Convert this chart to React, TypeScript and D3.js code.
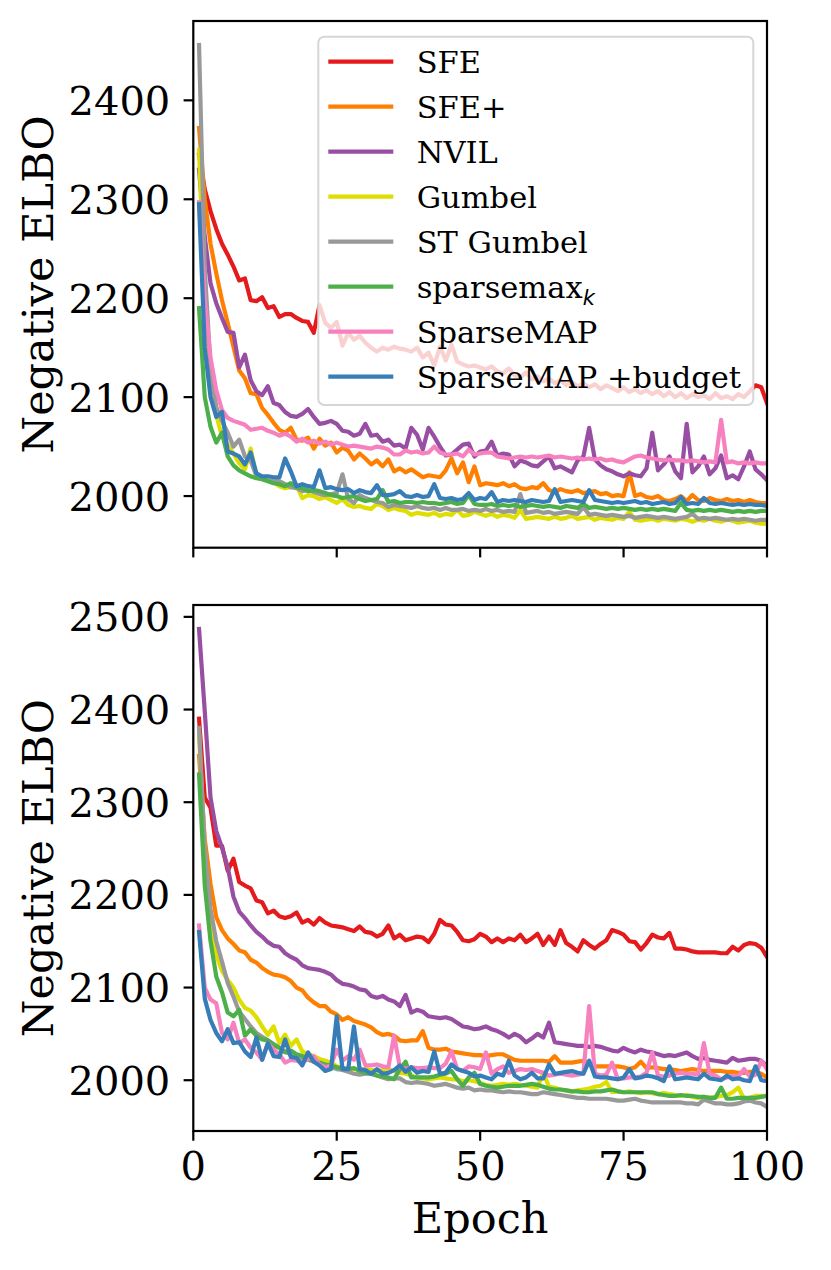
import * as d3 from 'd3';
import { useEffect, useRef } from 'react';

const methods = ['SFE', 'SFE+', 'NVIL', 'Gumbel', 'ST Gumbel', 'sparsemax', 'SparseMAP', 'SparseMAP +budget'];
const colors = ['#e41a1c', '#ff7f00', '#984ea3', '#dede00', '#999999', '#4daf4a', '#f781bf', '#377eb8'];
const xTicks = [0, 25, 50, 75, 100];
const yTicksTop = [2000, 2100, 2200, 2300, 2400];
const yTicksBottom = [2000, 2100, 2200, 2300, 2400, 2500];
const epochs = d3.range(1, 101);

// top panel
const sfeTop = [2345, 2310, 2288, 2270, 2255, 2244, 2232, 2218, 2220, 2198,
  2197, 2201, 2190, 2192, 2181, 2184, 2184, 2180, 2177, 2176,
  2165, 2193, 2175, 2170, 2176, 2152, 2165, 2158, 2162, 2155,
  2150, 2146, 2150, 2148, 2151, 2149, 2148, 2146, 2150, 2140,
  2145, 2132, 2151, 2137, 2153, 2136, 2133, 2131, 2132, 2130,
  2128, 2131, 2126, 2124, 2129, 2122, 2120, 2125, 2118, 2121,
  2116, 2119, 2114, 2117, 2112, 2115, 2111, 2114, 2110, 2113,
  2108, 2112, 2109, 2106, 2110, 2105, 2108, 2104, 2107, 2103,
  2106, 2101, 2105, 2100, 2104, 2099, 2103, 2100, 2102, 2098,
  2104, 2099, 2101, 2098, 2103, 2100, 2106, 2112, 2110, 2094];
const sfePlusTop = [2372, 2300, 2255, 2225, 2198, 2175, 2151, 2127, 2119, 2104,
  2103, 2089, 2082, 2074, 2067, 2064, 2069, 2057, 2056, 2059,
  2048, 2058, 2051, 2054, 2044, 2049, 2046, 2037, 2043, 2038,
  2032, 2036, 2030, 2037, 2025, 2028, 2024, 2027, 2023, 2019,
  2021, 2020, 2019, 2026, 2038, 2023, 2034, 2014, 2030, 2011,
  2013, 2012, 2011, 2013, 2010, 2012, 2008, 2007, 2009, 2008,
  2013, 2006, 2004, 2007, 2005, 2004, 2006, 2003, 2004, 2005,
  2002, 2003, 2000, 2001, 2000, 2024, 2000, 2002, 1999, 1998,
  2000, 1996, 1995, 1997, 2000, 1995, 2001, 1996, 1995, 1998,
  1996, 1995, 1997, 1995, 1996, 1994, 1996, 1994, 1993, 1993];
const nvilTop = [2330, 2262, 2215, 2195, 2180, 2166, 2165, 2130, 2143, 2117,
  2106, 2102, 2111, 2094, 2092, 2085, 2081, 2080, 2083, 2088,
  2080, 2073, 2074, 2076, 2073, 2066, 2065, 2061, 2063, 2073,
  2061, 2062, 2055, 2057, 2051, 2052, 2048, 2069, 2062, 2047,
  2069, 2060, 2050, 2041, 2042, 2047, 2052, 2053, 2040, 2045,
  2046, 2055, 2041, 2043, 2042, 2030, 2036, 2034, 2031, 2030,
  2035, 2040, 2028, 2030, 2027, 2024, 2036, 2040, 2069, 2037,
  2031, 2027, 2025, 2022, 2020, 2023, 2021, 2020, 2028, 2064,
  2026, 2032, 2040, 2025, 2018, 2073, 2024, 2030, 2040, 2022,
  2028, 2041, 2018, 2021, 2017, 2030, 2045, 2027, 2022, 2016];
const gumbelTop = [2350, 2200, 2120, 2082, 2060, 2052, 2043, 2033, 2027, 2048,
  2020, 2017, 2016, 2014, 2010, 2008, 2009, 2011, 1998, 2001,
  2000, 1997, 1999, 1996, 1993, 1997, 1991, 1989, 1990, 1988,
  1987, 1992, 1990, 1986, 1988, 1986, 1985, 1981, 1983, 1982,
  1981, 1983, 1980, 1982, 1981, 1986, 1980, 1981, 1984, 1982,
  1980, 1982, 1979, 1981, 1980, 1978, 1986, 1977, 1978, 1979,
  1978, 1977, 1979, 1977, 1978, 1980, 1977, 1978, 1979, 1976,
  1978, 1977, 1976, 1978, 1977, 1984, 1976, 1975, 1976, 1977,
  1975, 1977, 1976, 1975, 1977, 1976, 1974, 1976, 1975, 1977,
  1975, 1974, 1976, 1975, 1973, 1974, 1975, 1973, 1972, 1972];
const stGumbelTop = [2456, 2230, 2130, 2090, 2076, 2064, 2050, 2057, 2040, 2036,
  2020, 2018, 2016, 2015, 2015, 2012, 2009, 2008, 2005, 2006,
  2004, 2002, 2001, 2002, 2003, 2022, 1997, 1993, 2001, 1998,
  1996, 1994, 1993, 1989, 1991, 1990, 1989, 1988, 1990, 1988,
  1987, 1988, 1986, 1988, 1986, 1986, 1987, 1985, 1986, 1985,
  1987, 1985, 1986, 1984, 1985, 1984, 2002, 1983, 1984, 1985,
  1983, 1984, 1982, 1983, 1984, 1983, 1982, 1989, 1981, 1982,
  1981, 1980, 1981, 1980, 1979, 1980, 1978, 1979, 1980, 1979,
  1978, 1979, 1978, 1977, 1978, 1979, 1982, 1977, 1978, 1977,
  1978, 1977, 1976, 1977, 1976, 1977, 1976, 1975, 1976, 1976];
const sparsemaxTop = [2190, 2100, 2070, 2054, 2064, 2040, 2031, 2026, 2023, 2020,
  2018, 2017, 2015, 2013, 2012, 2010, 2013, 2009, 2008, 2005,
  2006, 2005, 2003, 2001, 2000, 1998, 1999, 2000, 1997, 1995,
  1996, 1997, 2006, 1994, 1995, 1993, 1994, 1994, 1993, 1994,
  1993, 1993, 1992, 1993, 1994, 1992, 1993, 2001, 1992, 1991,
  1991, 1992, 1990, 1991, 1990, 1991, 1989, 1990, 1991, 1990,
  1989, 1990, 1989, 1988, 1990, 1989, 1988, 1992, 1988, 1989,
  1988, 1987, 1988, 1987, 1988, 1987, 1986, 1987, 1986, 1987,
  1986, 1987, 1986, 1985, 1993, 1986, 1985, 1986, 1985, 1986,
  1985, 1986, 1985, 1984, 1985, 1984, 1985, 1984, 1985, 1985];
const sparsemapTop = [2297, 2200, 2140, 2107, 2087, 2079, 2076, 2074, 2072, 2067,
  2068, 2069, 2066, 2064, 2061, 2063, 2060, 2055, 2058, 2054,
  2056, 2053, 2055, 2052, 2054, 2052, 2050, 2051, 2050, 2049,
  2048, 2050, 2049, 2047, 2042, 2042, 2046, 2044, 2045, 2043,
  2044, 2050, 2044, 2042, 2042, 2043, 2040, 2047, 2042, 2043,
  2044, 2044, 2040, 2039, 2038, 2039, 2040, 2039, 2040, 2039,
  2040, 2041, 2039, 2040, 2039, 2038, 2039, 2037, 2038, 2037,
  2038, 2036, 2037, 2035, 2034, 2037, 2040, 2041, 2039, 2038,
  2037, 2036, 2037, 2036, 2036, 2035, 2036, 2035, 2034, 2035,
  2034, 2077, 2034, 2035, 2033, 2034, 2033, 2034, 2033, 2033];
const budgetTop = [2295, 2150, 2100, 2080, 2085, 2045, 2043, 2040, 2032, 2044,
  2023, 2020, 2020, 2019, 2019, 2038, 2025, 2010, 2012, 2010,
  2009, 2026, 2008, 2009, 2007, 2006, 2007, 2003, 2006, 2004,
  2003, 2011, 2001, 2001, 2002, 2005, 2000, 1999, 2001, 1999,
  2000, 2012, 1998, 1997, 1998, 1996, 1997, 2003, 1996, 1998,
  1997, 2004, 1994, 1996, 1995, 1996, 1995, 1994, 1996, 1995,
  1994, 1995, 2007, 1994, 1995, 1996, 1995, 1994, 2006, 1996,
  1995, 1994, 1993, 1994, 1993, 1994, 1995, 1993, 1994, 1992,
  1993, 1994, 1992, 1993, 1999, 1992, 1993, 1992, 1998, 1993,
  1992, 1993, 1992, 1991, 1992, 1991, 1992, 1991, 1991, 1990];

// bottom panel
const sfeBottom = [2390, 2305, 2294, 2253, 2253, 2226, 2239, 2214, 2210, 2207,
  2194, 2192, 2180, 2183, 2177, 2175, 2177, 2181, 2170, 2173,
  2168, 2175, 2170, 2167, 2166, 2165, 2163, 2161, 2166, 2160,
  2159, 2155, 2158, 2167, 2153, 2157, 2151, 2153, 2155, 2154,
  2149, 2158, 2173, 2168, 2167, 2160, 2151, 2150, 2152, 2158,
  2155, 2149, 2153, 2149, 2153, 2151, 2157, 2149, 2153, 2158,
  2146, 2155, 2146, 2162, 2148, 2144, 2139, 2151, 2146, 2142,
  2147, 2151, 2162, 2160, 2157, 2150, 2149, 2141, 2148, 2157,
  2154, 2153, 2159, 2142, 2142, 2141, 2139, 2138, 2138, 2138,
  2138, 2137, 2137, 2144, 2140, 2146, 2148, 2147, 2143, 2133];
const sfePlusBottom = [2350, 2260, 2212, 2176, 2162, 2153, 2147, 2140, 2138, 2130,
  2127, 2121, 2117, 2114, 2113, 2111, 2107, 2100, 2097, 2089,
  2084, 2080, 2080, 2074, 2071, 2065, 2068, 2064, 2062, 2060,
  2057, 2052, 2049, 2050, 2048, 2043, 2042, 2043, 2043, 2053,
  2035, 2033, 2033, 2034, 2031, 2030, 2029, 2028, 2027, 2027,
  2026, 2027, 2028, 2028, 2025, 2022, 2021, 2021, 2021, 2021,
  2021, 2020, 2026, 2019, 2019, 2019, 2020, 2021, 2018, 2015,
  2015, 2015, 2015, 2015, 2014, 2012, 2014, 2020, 2013, 2014,
  2013, 2012, 2012, 2011, 2010, 2011, 2012, 2011, 2010, 2010,
  2010, 2010, 2009, 2009, 2008, 2008, 2009, 2009, 2007, 2003];
const nvilBottom = [2487, 2398, 2305, 2269, 2251, 2230, 2198, 2182, 2175, 2167,
  2160, 2155, 2149, 2145, 2144, 2137, 2133, 2130, 2124, 2121,
  2120, 2119, 2117, 2114, 2108, 2104, 2103, 2101, 2098, 2097,
  2091, 2089, 2091, 2087, 2085, 2080, 2092, 2073, 2076, 2074,
  2069, 2068, 2067, 2068, 2066, 2062, 2058, 2057, 2055, 2056,
  2058, 2055, 2053, 2050, 2046, 2050, 2047, 2041, 2045, 2050,
  2046, 2062, 2041, 2040, 2039, 2038, 2037, 2037, 2036, 2037,
  2036, 2034, 2032, 2031, 2035, 2032, 2030, 2033, 2031, 2030,
  2028, 2026, 2027, 2026, 2028, 2030, 2026, 2023, 2024, 2022,
  2021, 2020, 2019, 2024, 2021, 2022, 2023, 2023, 2021, 2015];
const gumbelBottom = [2373, 2250, 2170, 2135, 2118, 2108, 2100, 2087, 2078, 2075,
  2068, 2058, 2049, 2058, 2040, 2049, 2037, 2044, 2031, 2028,
  2026, 2023, 2021, 2019, 2015, 2013, 2012, 2012, 2011, 2012,
  2011, 2010, 2011, 2012, 2010, 2008, 2007, 2005, 2003, 2002,
  2001, 2002, 2003, 2002, 2001, 2001, 1999, 2000, 1999, 1997,
  1995, 1994, 1995, 1996, 1995, 1996, 1995, 1994, 1993, 1992,
  2008, 1993, 1992, 1990, 1989, 1988, 1989, 1990, 1991, 1993,
  1994, 1998, 1987, 1988, 1987, 1988, 1987, 1986, 1987, 1986,
  1985, 1986, 1985, 1984, 1983, 1984, 1982, 1981, 1982, 1981,
  1982, 1983, 1984, 1987, 1992, 1980, 1981, 1983, 1983, 1983];
const stGumbelBottom = [2380, 2250, 2185, 2150, 2128, 2105, 2090, 2074, 2066, 2058,
  2051, 2047, 2043, 2039, 2035, 2031, 2028, 2026, 2024, 2022,
  2020, 2018, 2016, 2014, 2012, 2011, 2009, 2007, 2006, 2007,
  2007, 2005, 2003, 2001, 2002, 2002, 1998, 1997, 1998, 1997,
  1996, 1994, 1995, 1996, 1994, 1992, 1991, 1992, 1989, 1990,
  1989, 1989, 1988, 1987, 1988, 1987, 1987, 1986, 1985, 1985,
  1987, 1986, 1985, 1984, 1983, 1982, 1981, 1981, 1980, 1980,
  1980, 1980, 1979, 1978, 1978, 1979, 1980, 1978, 1977, 1976,
  1976, 1976, 1976, 1976, 1976, 1975, 1975, 1974, 1979, 1977,
  1975, 1975, 1974, 1974, 1975, 1977, 1978, 1976, 1975, 1971];
const sparsemaxBottom = [2330, 2210, 2150, 2112, 2095, 2073, 2069, 2076, 2048, 2055,
  2048, 2044, 2043, 2038, 2035, 2030, 2032, 2028, 2026, 2023,
  2021, 2019, 2017, 2016, 2014, 2013, 2012, 2013, 2010, 2008,
  2007, 2005, 2004, 2003, 2001, 2012, 2020, 2003, 2003, 2003,
  2003, 2004, 2006, 2007, 2010, 2001, 1994, 2003, 2008, 1996,
  1994, 1993, 1992, 1993, 1994, 1994, 1994, 1995, 1996, 1995,
  1993, 1991, 1990, 1990, 1989, 1988, 1988, 1987, 1987, 1988,
  1988, 1989, 1990, 1988, 1987, 1987, 1987, 1987, 1987, 1987,
  1985, 1984, 1983, 1983, 1984, 1983, 1983, 1982, 1982, 1981,
  1981, 1992, 1980, 1980, 1981, 1981, 1981, 1981, 1982, 1983];
const sparsemapBottom = [2167, 2100, 2087, 2083, 2051, 2044, 2062, 2040, 2044, 2035,
  2030, 2022, 2040, 2033, 2028, 2019, 2022, 2021, 2019, 2023,
  2026, 2017, 2014, 2016, 2033, 2021, 2026, 2022, 2033, 2016,
  2016, 2017, 2015, 2014, 2048, 2014, 2012, 2014, 2013, 2013,
  2014, 2013, 2013, 2018, 2031, 2012, 2010, 2015, 2014, 2012,
  2030, 2007, 2012, 2015, 2008, 2010, 2012, 2011, 2012, 2010,
  2008, 2005, 2006, 2007, 2006, 2005, 2006, 2007, 2080, 2007,
  2005, 2006, 2019, 2001, 2002, 2003, 2003, 2004, 2008, 2030,
  2005, 2004, 2005, 2007, 2008, 2007, 2007, 2006, 2040, 2007,
  2005, 2001, 2003, 2005, 2004, 2012, 2004, 2006, 2021, 2012];
const budgetBottom = [2160, 2088, 2065, 2051, 2042, 2055, 2040, 2041, 2031, 2025,
  2046, 2022, 2040, 2026, 2025, 2044, 2025, 2024, 2016, 2030,
  2020, 2016, 2010, 2012, 2069, 2012, 2012, 2058, 2012, 2011,
  2007, 2012, 2007, 2008, 2011, 2016, 2009, 2014, 2008, 2010,
  2009, 2031, 2007, 2008, 2017, 2012, 2010, 2008, 2004, 2005,
  2003, 2001, 2007, 2005, 2021, 2005, 2001, 2003, 2008, 2002,
  2002, 2017, 2007, 2008, 2009, 2010, 2008, 2007, 2021, 2004,
  2003, 2003, 2002, 2001, 2003, 2012, 2002, 2003, 2005, 2004,
  2002, 1999, 2015, 2001, 2002, 2003, 2002, 2001, 2007, 2002,
  2001, 2000, 2005, 2001, 2002, 2000, 1999, 2015, 2000, 1999];

const topSeries = [sfeTop, sfePlusTop, nvilTop, gumbelTop, stGumbelTop, sparsemaxTop, sparsemapTop, budgetTop];
const bottomSeries = [sfeBottom, sfePlusBottom, nvilBottom, gumbelBottom, stGumbelBottom, sparsemaxBottom, sparsemapBottom, budgetBottom];

const W = 831;
const H = 1270;
const LEFT = 193.3;
const RIGHT = 767;
const SERIF = '"DejaVu Serif", serif';

const App = () => {
    const ref = useRef<SVGSVGElement>(null);

    useEffect(() => {
        document.body.style.margin = '0';
        const svg: any = d3.select(ref.current);
        svg.selectAll('*').remove();

        const x: any = d3.scaleLinear().domain([0, 100]).range([LEFT, RIGHT]);

        const drawPanel = (id: string, series: number[][], yTicks: number[], top: number, bottom: number, showXLabels: boolean) => {
            const [lo, hi]: any = d3.extent(series.flat());
            const pad = (hi - lo) * 0.05;
            const y: any = d3.scaleLinear().domain([lo - pad, hi + pad]).range([bottom, top]);
            const g = svg.append('g');

            g.append('clipPath').attr('id', id)
                .append('rect')
                .attr('x', LEFT).attr('y', top)
                .attr('width', RIGHT - LEFT).attr('height', bottom - top);

            const line: any = d3.line<number>()
                .x((_d, i) => x(epochs[i]))
                .y((d) => y(d));

            // one line per method
            g.append('g')
                .attr('clip-path', `url(#${id})`)
                .selectAll('path')
                .data(series)
                .enter()
                .append('path')
                .attr('d', (d: number[]) => line(d))
                .attr('fill', 'none')
                .attr('stroke', (_d: any, i: number) => colors[i])
                .attr('stroke-width', 4.2)
                .attr('stroke-linejoin', 'round')
                .attr('stroke-linecap', 'square');

            // axes frame
            g.append('rect')
                .attr('x', LEFT).attr('y', top)
                .attr('width', RIGHT - LEFT).attr('height', bottom - top)
                .attr('fill', 'none')
                .attr('stroke', '#000')
                .attr('stroke-width', 2.2);

            // x ticks
            g.selectAll('.xtick')
                .data(xTicks)
                .enter()
                .append('line')
                .attr('x1', (d: number) => x(d)).attr('x2', (d: number) => x(d))
                .attr('y1', bottom).attr('y2', bottom + 9.7)
                .attr('stroke', '#000').attr('stroke-width', 2.2);

            if (showXLabels) {
                g.selectAll('.xlabel')
                    .data(xTicks)
                    .enter()
                    .append('text')
                    .attr('x', (d: number) => x(d))
                    .attr('y', bottom + 49)
                    .attr('text-anchor', 'middle')
                    .style('font-family', SERIF)
                    .style('font-size', '40px')
                    .text((d: number) => d);
            }

            // y ticks
            g.selectAll('.ytick')
                .data(yTicks)
                .enter()
                .append('line')
                .attr('x1', LEFT - 9.7).attr('x2', LEFT)
                .attr('y1', (d: number) => y(d)).attr('y2', (d: number) => y(d))
                .attr('stroke', '#000').attr('stroke-width', 2.2);

            g.selectAll('.ylabel')
                .data(yTicks)
                .enter()
                .append('text')
                .attr('x', LEFT - 23)
                .attr('y', (d: number) => y(d) + 14.5)
                .attr('text-anchor', 'end')
                .style('font-family', SERIF)
                .style('font-size', '40px')
                .text((d: number) => d);

            g.append('text')
                .attr('transform', `translate(53,${(top + bottom) / 2}) rotate(-90)`)
                .attr('text-anchor', 'middle')
                .style('font-family', SERIF)
                .style('font-size', '43px')
                .text('Negative ELBO');

            return g;
        };

        const topG = drawPanel('clip-top', topSeries, yTicksTop, 21, 547.7, false);
        drawPanel('clip-bottom', bottomSeries, yTicksBottom, 605, 1131, true);

        svg.append('text')
            .attr('x', (LEFT + RIGHT) / 2)
            .attr('y', 1233)
            .attr('text-anchor', 'middle')
            .style('font-family', SERIF)
            .style('font-size', '43px')
            .text('Epoch');

        // legend
        const legend = topG.append('g');
        legend.append('rect')
            .attr('x', 318.3).attr('y', 36.7)
            .attr('width', 435).attr('height', 368.3)
            .attr('rx', 6)
            .attr('fill', '#fff').attr('fill-opacity', 0.8)
            .attr('stroke', '#d6d6d6').attr('stroke-width', 2);

        const items = legend.selectAll('.item')
            .data(methods)
            .enter()
            .append('g')
            .attr('transform', (_d: string, i: number) => `translate(0,${61.7 + i * 45})`);

        items.append('line')
            .attr('x1', 328.3).attr('x2', 393.3)
            .attr('stroke', (_d: string, i: number) => colors[i])
            .attr('stroke-width', 4.2);

        const labels = items.append('text')
            .attr('x', 416.7)
            .attr('y', 11)
            .style('font-family', SERIF)
            .style('font-size', '30.5px')
            .text((d: string) => d);

        // sparsemax_k subscript
        labels.filter((d: string) => d === 'sparsemax')
            .append('tspan')
            .attr('dy', 7)
            .style('font-family', '"DejaVu Sans", sans-serif')
            .style('font-style', 'italic')
            .style('font-size', '21px')
            .text('k');
    }, []);

    return (
        <svg ref={ref} width={W} height={H} style={{ display: 'block', background: '#fff' }} />
    );
};

export default App;
